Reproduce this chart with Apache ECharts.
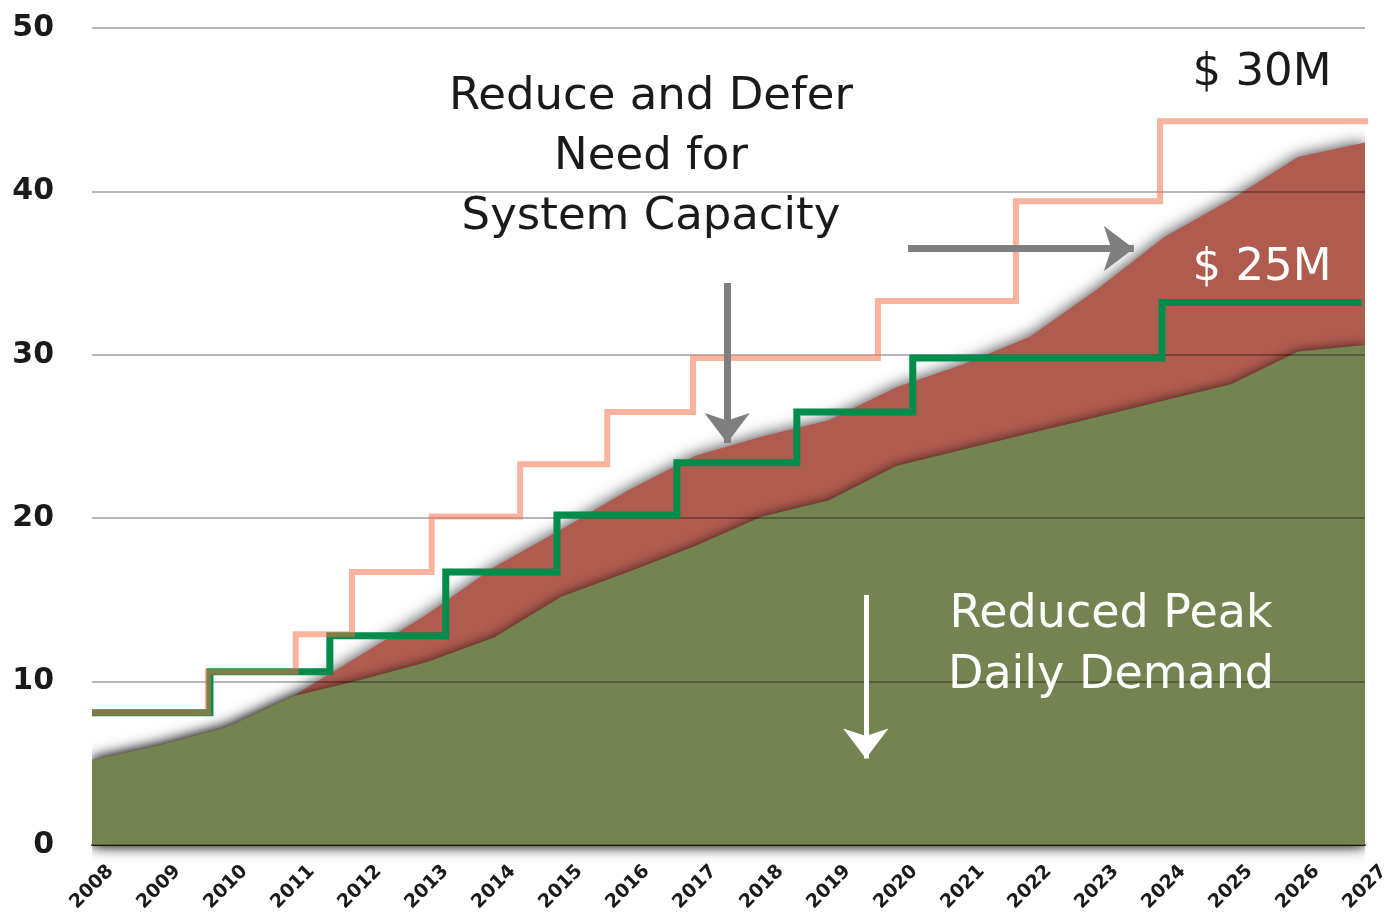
<!DOCTYPE html>
<html>
<head>
<meta charset="utf-8">
<script src="https://cdn.jsdelivr.net/npm/echarts@6/dist/echarts.min.js"></script>
<style>
html,body{margin:0;padding:0;background:#fff;}
#chart{width:1384px;height:916px;}
</style>
</head>
<body>
<div id="chart"></div>
<script>
// ---- data ----
var years = [2008,2009,2010,2011,2012,2013,2014,2015,2016,2017,2018,2019,2020,2021,2022,2023,2024,2025,2026,2027];
var peakDemand =    [5.2,6.1,7.2,9.1,11.6,14.1,17.0,19.3,21.7,23.8,25.0,26.0,28.0,29.4,31.1,34.0,37.2,39.5,42.1,43.0];
var reducedDemand = [5.2,6.1,7.2,9.1,10.1,11.2,12.7,15.2,16.7,18.3,20.1,21.1,23.2,24.2,25.2,26.2,27.2,28.2,30.2,30.6];
// step capacity: [year where level starts, level]
var capacity30M = [[2008,8.1],[2009.73,10.6],[2011.04,12.9],[2011.88,16.7],[2013.07,20.1],[2014.39,23.3],[2015.69,26.5],[2016.97,29.8],[2019.73,33.3],[2021.79,39.4],[2023.94,44.3],[2027.1,44.3]];
var capacity25M = [[2008,8.1],[2009.76,10.6],[2011.55,12.8],[2013.28,16.7],[2014.94,20.2],[2016.73,23.4],[2018.52,26.5],[2020.25,29.8],[2023.97,33.2],[2026.95,33.2]];
var yTicks = [0,10,20,30,40,50];

function pairs(xs, ys){ return xs.map(function(x,i){return [x, ys[i]];}); }

var chart = echarts.init(document.getElementById('chart'));
var option = {
  backgroundColor:'#ffffff',
  animation:false,
  grid:{left:92,right:19,top:28,bottom:71,containLabel:false,outerBoundsMode:'none'},
  xAxis:{
    type:'value', min:years[0], max:years[years.length-1], interval:1,
    axisLine:{show:true, lineStyle:{color:'#4a4a2a', width:2}},
    axisTick:{show:false},
    splitLine:{show:false},
    axisLabel:{
      rotate:45, margin:42, align:'center', verticalAlign:'middle',
      fontFamily:'DejaVu Sans', fontWeight:'bold', fontSize:19, color:'#1a1a1a',
      formatter:function(v){ return years.indexOf(v) >= 0 ? String(v) : ''; }
    }
  },
  yAxis:{
    type:'value', min:yTicks[0], max:yTicks[yTicks.length-1], interval:10, z:2,
    axisLine:{show:false}, axisTick:{show:false},
    splitLine:{show:true, lineStyle:{color:'rgba(0,0,0,0.38)', width:1.5}},
    axisLabel:{margin:38, fontFamily:'DejaVu Sans', fontWeight:'bold', fontSize:30, color:'#1a1a1a'}
  },
  series:[
    {
      type:'line', name:'Peak Demand', data:pairs(years, peakDemand), z:1, clip:false,
      showSymbol:false, lineStyle:{width:0},
      areaStyle:{color:'#b05b4f', opacity:1, shadowBlur:16, shadowColor:'rgba(0,0,0,0.8)'}
    },
    {
      type:'line', name:'Reduced Peak Daily Demand', data:pairs(years, reducedDemand), z:1, clip:false,
      showSymbol:false, lineStyle:{width:0},
      areaStyle:{color:'#758351', opacity:1, shadowBlur:12, shadowColor:'rgba(0,0,0,0.7)'}
    },
    {
      type:'line', name:'$25M', data:capacity25M, step:'end', z:3, clip:false,
      showSymbol:false, lineStyle:{color:'#008c4a', width:7, cap:'butt', join:'miter'}
    },
    {
      type:'line', name:'$30M', data:capacity30M, step:'end', z:4, clip:false,
      showSymbol:false, lineStyle:{color:'rgba(246,110,70,0.52)', width:6, cap:'butt', join:'miter'}
    },
    {
      type:'line', name:'arrows', data:[], z:5,
      markLine:{
        silent:true, symbol:['none','arrow'], symbolSize:[34,30], animation:false,
        label:{show:false},
        data:[
          [{coord:[2017.48,34.4], lineStyle:{color:'#7f7f7f', width:7, type:'solid'}},{coord:[2017.48,24.6]}],
          [{coord:[2020.18,36.5], lineStyle:{color:'#7f7f7f', width:7, type:'solid'}},{coord:[2023.55,36.5]}],
          [{coord:[2019.55,15.3], lineStyle:{color:'#ffffff', width:5, type:'solid'}},{coord:[2019.55,5.3]}]
        ]
      }
    }
  ],
  graphic:[
    {type:'text', z:100, style:{text:'Reduce and Defer', x:651, y:97, fill:'#1a1a1a', font:'45px "DejaVu Sans"', align:'center', verticalAlign:'middle', textAlign:'center', textVerticalAlign:'middle'}},
    {type:'text', z:100, style:{text:'Need for', x:651, y:157, fill:'#1a1a1a', font:'45px "DejaVu Sans"', align:'center', verticalAlign:'middle', textAlign:'center', textVerticalAlign:'middle'}},
    {type:'text', z:100, style:{text:'System Capacity', x:651, y:217, fill:'#1a1a1a', font:'45px "DejaVu Sans"', align:'center', verticalAlign:'middle', textAlign:'center', textVerticalAlign:'middle'}},
    {type:'text', z:100, style:{text:'$ 30M', x:1262, y:73, fill:'#1a1a1a', font:'45px "DejaVu Sans"', align:'center', verticalAlign:'middle', textAlign:'center', textVerticalAlign:'middle'}},
    {type:'text', z:100, style:{text:'$ 25M', x:1262, y:268, fill:'#ffffff', font:'45px "DejaVu Sans"', align:'center', verticalAlign:'middle', textAlign:'center', textVerticalAlign:'middle'}},
    {type:'text', z:100, style:{text:'Reduced Peak', x:1111, y:615, fill:'#ffffff', font:'46px "DejaVu Sans"', align:'center', verticalAlign:'middle', textAlign:'center', textVerticalAlign:'middle'}},
    {type:'text', z:100, style:{text:'Daily Demand', x:1111, y:676, fill:'#ffffff', font:'46px "DejaVu Sans"', align:'center', verticalAlign:'middle', textAlign:'center', textVerticalAlign:'middle'}}
  ]
};
chart.setOption(option);
</script>
</body>
</html>
